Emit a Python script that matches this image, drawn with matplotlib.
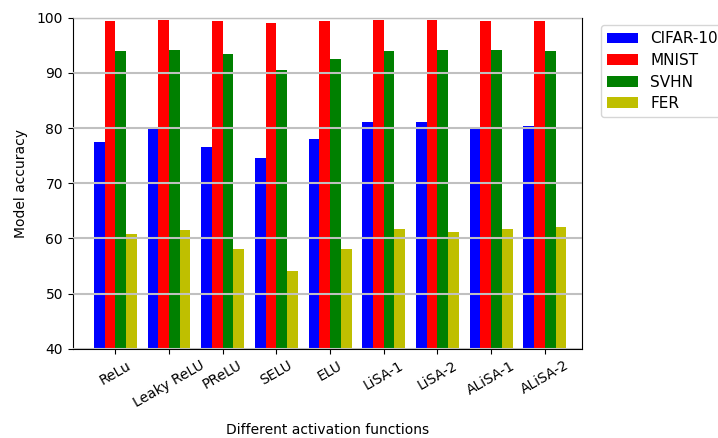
import matplotlib
matplotlib.use("Agg")
import matplotlib.pyplot as plt
import numpy as np

categories = ["ReLu", "Leaky ReLU", "PReLU", "SELU", "ELU", "LiSA-1", "LiSA-2", "ALiSA-1", "ALiSA-2"]
cifar10 = [77.5, 79.9, 76.6, 74.6, 78.1, 81.1, 81.1, 79.9, 80.4]
mnist = [99.45, 99.6, 99.45, 99.1, 99.45, 99.6, 99.6, 99.45, 99.45]
svhn = [94.0, 94.2, 93.5, 90.6, 92.6, 94.0, 94.2, 94.2, 94.0]
fer = [60.8, 61.5, 58.1, 54.1, 58.1, 61.7, 61.1, 61.7, 62.1]
series_names = ["CIFAR-10", "MNIST", "SVHN", "FER"]
colors = ["b", "r", "g", "y"]

fig = plt.figure(figsize=(7.18, 4.38), dpi=100)
ax = fig.add_axes([0.1013, 0.2039, 0.7098, 0.7557])
x = np.arange(len(categories))
w = 0.2
for k, (vals, name, c) in enumerate(zip([cifar10, mnist, svhn, fer], series_names, colors)):
    ax.bar(x + (k - 1.5) * w, vals, w, color=c, label=name, zorder=1)
ax.set_ylim(40, 100)
ax.set_xlim(-0.793, 8.70)
ax.set_xticks(x)
ax.set_xticklabels(categories, rotation=30)
ax.yaxis.grid(True, color="#c0c0c0", linewidth=1.5, zorder=3)
ax.set_axisbelow(False)
ax.set_ylabel("Model accuracy", labelpad=6)
ax.set_xlabel("Different activation functions", labelpad=9)
ax.legend(loc="upper left", bbox_to_anchor=(1.022, 1.0), fontsize=11, labelspacing=0.43)
fig.savefig("out.png", dpi=100)
